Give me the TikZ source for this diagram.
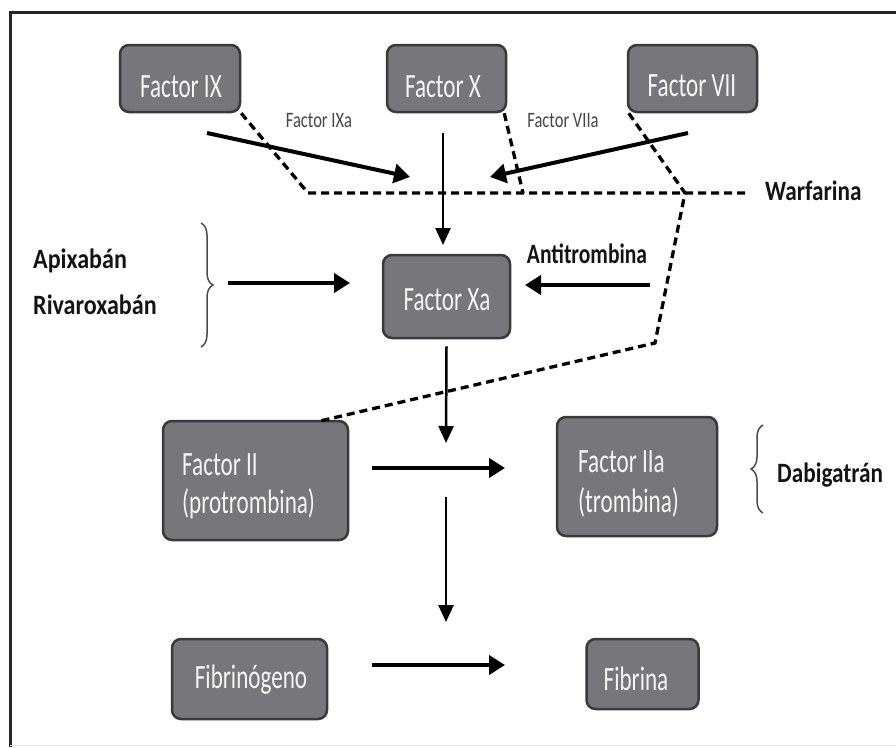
\documentclass[tikz,border=0pt]{standalone}
\usepackage{fontspec}
\usepackage{graphicx}
\setmainfont{Carlito}
\usetikzlibrary{arrows.meta,decorations.pathreplacing}
\definecolor{boxfill}{RGB}{118,118,123}
\definecolor{boxborder}{RGB}{58,58,60}
\definecolor{smallgray}{RGB}{70,70,70}
\definecolor{lbltext}{RGB}{20,20,20}
\definecolor{boxtext}{RGB}{246,246,246}
\newcommand{\sqz}[2][0.68]{\scalebox{#1}[1]{#2}}
\begin{document}
\begin{tikzpicture}[x=1pt,y=-1pt,
  box/.style={draw=boxborder, line width=2.5pt, fill=boxfill, rounded corners=9pt, inner sep=0pt},
  boxtxt/.style={text=boxtext, font=\fontsize{34}{40}\selectfont, inner sep=0pt},
  lbl/.style={text=lbltext, font=\bfseries\fontsize{28}{33}\selectfont, inner sep=0pt},
  smalllbl/.style={text=smallgray, font=\fontsize{22}{26}\selectfont, inner sep=0pt},
  arr/.style={line width=4pt, -{Triangle[length=16pt,width=19pt]}},
  varr/.style={line width=2.5pt, -{Triangle[length=17pt,width=15pt]}},
  dsh/.style={line width=3.3pt, dash pattern=on 8pt off 5pt},
  brc/.style={decorate, decoration={brace, amplitude=12pt}, line width=1.5pt, draw=black!70}
]
\useasboundingbox (0,0) rectangle (896,747);
\fill[white] (0,0) rectangle (896,747);
% frame
\draw[line width=3pt, black!85] (10,747) -- (10,12) -- (896,12);
\draw[line width=1pt, black!10] (10,745) -- (896,745);

% boxes
\node[box, minimum width=120pt, minimum height=67pt] (ix) at (180,78.5) {};
\node[box, minimum width=119pt, minimum height=67pt] (x) at (446.5,78.5) {};
\node[box, minimum width=129pt, minimum height=67pt] (vii) at (692.5,78.5) {};
\node[box, minimum width=127pt, minimum height=83pt] (xa) at (446.5,296.5) {};
\node[box, minimum width=185pt, minimum height=119pt] (ii) at (255.5,480.5) {};
\node[box, minimum width=160pt, minimum height=119pt] (iia) at (637,476.5) {};
\node[box, minimum width=155pt, minimum height=80pt] (fibg) at (249.5,679) {};
\node[box, minimum width=112pt, minimum height=70pt] (fib) at (642.5,674) {};

% box texts
\node[boxtxt, anchor=base] (ixt) at (181,97) {\sqz{Factor IX}};
\node[boxtxt, anchor=base] (xt) at (443,97) {\sqz{Factor X}};
\node[boxtxt, anchor=base] (viit) at (692,96) {\sqz{Factor VII}};
\node[boxtxt, anchor=base] (xat) at (447,310) {\sqz{Factor Xa}};
\node[boxtxt, anchor=base west] (iit1) at (182,475) {\sqz{Factor II}};
\node[boxtxt, anchor=base west] (iit2) at (182,513) {\sqz{(protrombina)}};
\node[boxtxt, anchor=base west] (iiat1) at (578,472) {\sqz{Factor IIa}};
\node[boxtxt, anchor=base west] (iiat2) at (578,512) {\sqz{(trombina)}};
\node[boxtxt, anchor=base] (fibgt) at (251,688) {\sqz{Fibrinógeno}};
\node[boxtxt, anchor=base] (fibt) at (636,690) {\sqz{Fibrina}};

% labels
\node[smalllbl, anchor=base] (ixa) at (319,127) {\sqz[0.75]{Factor IXa}};
\node[smalllbl, anchor=base] (viia) at (563,127) {\sqz[0.75]{Factor VIIa}};
\node[lbl, anchor=base west] (warf) at (765,200) {\sqz[0.83]{Warfarina}};
\node[lbl, anchor=base west] (apix) at (33,268) {\sqz[0.86]{Apixabán}};
\node[lbl, anchor=base west] (riva) at (33,314) {\sqz[0.86]{Rivaroxabán}};
\node[lbl, anchor=base] (anti) at (587,263) {\sqz[0.77]{Antitrombina}};
\node[lbl, anchor=base west] (dabi) at (777,482) {\sqz[0.83]{Dabigatrán}};

% free-end coordinates
\coordinate (a1s) at (207,133);
\coordinate (a1e) at (410,177);
\coordinate (a2s) at (688,133);
\coordinate (a2e) at (490,177);
\coordinate (a3s) at (443,133);
\coordinate (a3e) at (443,245);
\coordinate (a4s) at (228,283);
\coordinate (a4e) at (350,283);
\coordinate (a5s) at (650,285);
\coordinate (a5e) at (525,285);
\coordinate (a6e) at (446,443);
\coordinate (a7s) at (372,468);
\coordinate (a7e) at (505,468);
\coordinate (a8s) at (446,497);
\coordinate (a8e) at (446,622);
\coordinate (a9s) at (372,665);
\coordinate (a9e) at (505,665);
\coordinate (d1c) at (308,193);
\coordinate (d1e) at (747,193);
\coordinate (d2e) at (523,193);
\coordinate (d3a) at (685,193);
\coordinate (d3b) at (655,343);
\coordinate (d3e) at (320,421);

% dashed lines
\draw[dsh] (ix.south east) -- (d1c) -- (d1e);
\draw[dsh] ([xshift=-3pt]x.south east) -- (d2e);
\draw[dsh] ([xshift=2pt]vii.south west) -- (d3a) -- (d3b) -- (d3e);

% arrows
\draw[arr] (a1s) -- (a1e);
\draw[arr] (a2s) -- (a2e);
\draw[varr] (a3s) -- (a3e);
\draw[arr] (a4s) -- (a4e);
\draw[arr] (a5s) -- (a5e);
\draw[varr] ([yshift=-7pt]xa.south) -- (a6e);
\draw[arr] (a7s) -- (a7e);
\draw[varr] (a8s) -- (a8e);
\draw[arr] (a9s) -- (a9e);

% braces
\draw[brc] (201,223) -- (201,347);
\draw[brc] (763,513) -- (763,425);
\end{tikzpicture}
\end{document}
